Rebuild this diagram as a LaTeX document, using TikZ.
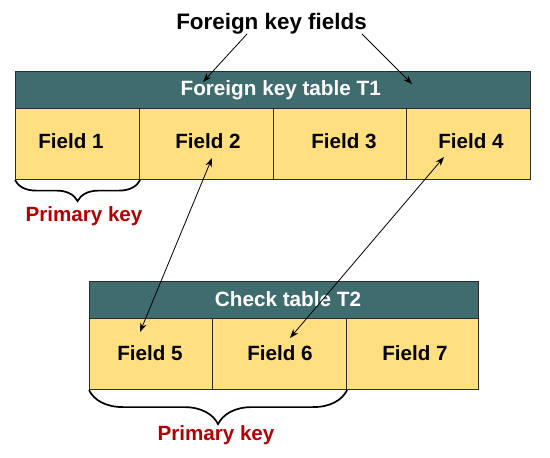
\documentclass[tikz,border=0pt]{standalone}
\usepackage{fontspec}
\setmainfont{Liberation Sans}
\usetikzlibrary{arrows.meta,decorations.pathreplacing}
\definecolor{hdr}{HTML}{3F6C6F}
\definecolor{cell}{HTML}{FFDF80}
\definecolor{edge}{HTML}{2B2B2B}
\definecolor{pkred}{HTML}{B30000}
\tikzset{
  hdrbox/.style={draw=edge, line width=1.1pt, fill=hdr, anchor=north west, inner sep=0pt,
    minimum height=37pt},
  cellbox/.style={draw=edge, line width=1.1pt, fill=cell, anchor=north west, inner sep=0pt,
    minimum height=71pt},
  hdrtext/.style={text=white, inner sep=0pt, font=\fontsize{20.7}{24}\selectfont\bfseries},
  celltext/.style={inner sep=0pt, font=\fontsize{20.6}{24}\selectfont\bfseries},
  pklabel/.style={text=pkred, inner sep=0pt, font=\fontsize{20.6}{24}\selectfont\bfseries},
  pkbrace/.style={decorate, decoration={brace, mirror, amplitude=#1}, line width=1.7pt},
  link/.style={line width=0.8pt, {Stealth[length=9pt,width=6.5pt]}-{Stealth[length=9pt,width=6.5pt]}},
  point/.style={line width=0.8pt, -{Stealth[length=9pt,width=6.5pt]}}
}
\begin{document}
\begin{tikzpicture}[x=1pt,y=-1pt]
\useasboundingbox (0,0) rectangle (550,458);
% title
\node[inner sep=0pt, font=\fontsize{22.4}{26}\selectfont\bfseries] (title) at (271.5,24) {Foreign key fields};
% T1
\node[hdrbox, minimum width=515pt] (h1) at (15,71) {};
\node[cellbox, minimum width=124pt] (f1) at (15,108) {};
\node[cellbox, minimum width=134pt] (f2) at (139,108) {};
\node[cellbox, minimum width=133pt] (f3) at (273,108) {};
\node[cellbox, minimum width=124pt] (f4) at (406,108) {};
\node[hdrtext] (h1t) at (280.7,90) {Foreign key table T1};
\node[celltext] (f1t) at (71,141) {Field 1};
\node[celltext] (f2t) at (208,141) {Field 2};
\node[celltext] (f3t) at (344,141) {Field 3};
\node[celltext] (f4t) at (471,141) {Field 4};
% T2
\node[hdrbox, minimum width=389pt] (h2) at (89,281) {};
\node[cellbox, minimum width=123pt] (f5) at (89,318) {};
\node[cellbox, minimum width=134pt] (f6) at (212,318) {};
\node[cellbox, minimum width=132pt] (f7) at (346,318) {};
\node[hdrtext] (h2t) at (288,299.5) {Check table T2};
\node[celltext] (f5t) at (150,353) {Field 5};
\node[celltext] (f6t) at (280,353) {Field 6};
\node[celltext] (f7t) at (415,353) {Field 7};
% braces
\draw[pkbrace=21pt] (f1.south west) -- (f1.south east);
\node[pklabel] (pk1) at (84,216) {Primary key};
\draw[pkbrace=34pt] (f5.south west) -- (f6.south east);
\node[pklabel] (pk2) at (216,435) {Primary key};
% arrows
\coordinate (ta) at (247,34);
\coordinate (tb) at (362,34);
\coordinate (ha) at (203,82);
\coordinate (hb) at (412,84);
\draw[point] (ta) -- (ha);
\draw[point] (tb) -- (hb);
\coordinate (p2) at (212,158);
\coordinate (p5) at (140,332);
\coordinate (p4) at (444,157);
\coordinate (p6) at (290,338);
\draw[link] (p2) -- (p5);
\draw[link] (p4) -- (p6);
\end{tikzpicture}
\end{document}
